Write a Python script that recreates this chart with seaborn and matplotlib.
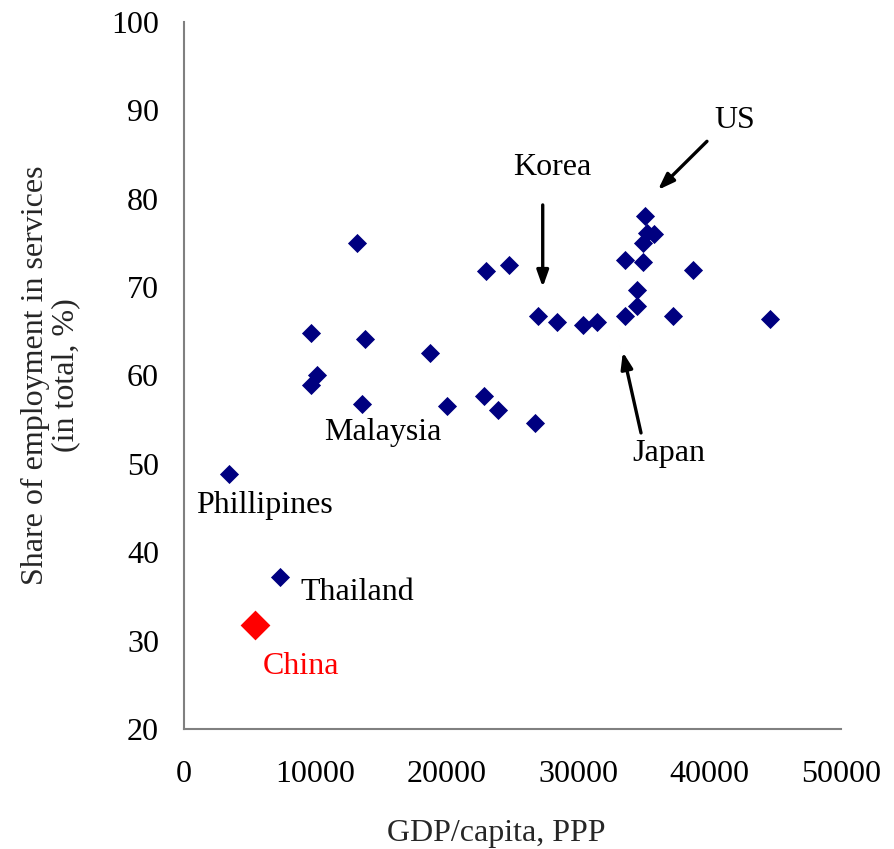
import matplotlib
matplotlib.use("Agg")
import matplotlib.pyplot as plt
import seaborn as sns
import pandas as pd

gdp = [13140, 23000, 24760, 26920, 28400, 9690, 13770, 18720, 10120, 9690,
       13550, 20040, 22810, 23920, 26710, 30340, 31450, 33580, 34450, 34450,
       37240, 44600, 33580, 34910, 38760, 35080, 34910, 35210, 35770,
       3450, 7310]
services = [75.0, 71.8, 72.45, 66.7, 66.0, 64.8, 64.15, 62.5, 60.1, 58.9,
            56.8, 56.5, 57.7, 56.1, 54.6, 65.7, 66.0, 66.7, 67.9, 69.7,
            66.7, 66.4, 73.1, 72.8, 71.9, 78.0, 75.0, 76.1, 76.0,
            48.8, 37.2]
china_gdp = [5400]
china_services = [31.8]

labels = ["Korea", "US", "Japan", "Malaysia", "Phillipines", "Thailand"]
label_x = [28000, 41900, 36900, 15100, 6100, 13200]
label_y = [83.5, 88.9, 51.2, 53.6, 45.3, 35.5]

arrow_from = [(27300, 79.3), (39800, 86.5), (34780, 53.5)]
arrow_to = [(27300, 70.0), (36070, 81.0), (33400, 62.65)]

xticks = [0, 10000, 20000, 30000, 40000, 50000]
yticks = [20, 30, 40, 50, 60, 70, 80, 90, 100]

sns.set_style("white")
plt.rcParams["font.family"] = ["Liberation Serif", "DejaVu Serif"]

fig = plt.figure(figsize=(8.95, 8.49), dpi=100)
ax = fig.add_axes([184 / 895, 1 - 729 / 849, (841 - 184) / 895, (729 - 22) / 849])

df = pd.DataFrame({"gdp": gdp, "services": services})
sns.scatterplot(data=df, x="gdp", y="services", ax=ax, marker="D", s=95,
                color="#000080", linewidth=0, zorder=3)
dfc = pd.DataFrame({"gdp": china_gdp, "services": china_services})
sns.scatterplot(data=dfc, x="gdp", y="services", ax=ax, marker="D", s=230,
                color="#FF0000", linewidth=0, zorder=3)

fs = 23
for t, lx, ly in zip(labels, label_x, label_y):
    ax.text(lx, ly, t, fontsize=fs, ha="center", va="center", color="black")
ax.text(8900, 27.1, "China", fontsize=fs, ha="center", va="center", color="#FF0000")

for (x0, y0), (x1, y1) in zip(arrow_from, arrow_to):
    ax.annotate("", xy=(x1, y1), xytext=(x0, y0),
                arrowprops=dict(arrowstyle="-|>,head_length=0.7,head_width=0.25",
                                color="black", lw=2.4,
                                mutation_scale=14, shrinkA=0, shrinkB=0))

ax.set_xlim(0, 50000)
ax.set_ylim(20, 100)
ax.set_xticks(xticks)
ax.set_yticks(yticks)
ax.set_xticklabels([str(v) for v in xticks], fontsize=fs)
ax.set_yticklabels([str(v) for v in yticks], fontsize=fs)
ax.tick_params(axis="both", direction="out", length=8, width=1.2, color="#808080",
               pad=10, labelcolor="black")
ax.tick_params(axis="x", pad=14)
for side in ["top", "right"]:
    ax.spines[side].set_visible(False)
for side in ["left", "bottom"]:
    ax.spines[side].set_color("#808080")
    ax.spines[side].set_linewidth(1.5)

ax.set_xlabel("GDP/capita, PPP", fontsize=fs)
ax.xaxis.set_label_coords(0.476, -0.127)
ax.set_ylabel("Share of employment in services\n(in total, %)", fontsize=fs,
              linespacing=1.05)
ax.yaxis.set_label_coords(-0.158, 0.5)

fig.savefig("out.png", dpi=100)
